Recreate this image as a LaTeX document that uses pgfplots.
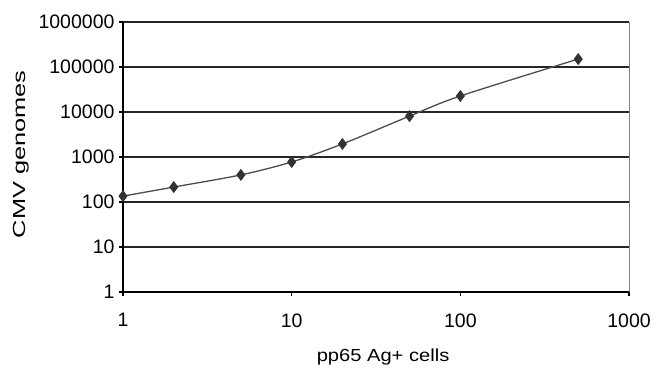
\documentclass[border=0pt]{standalone}
\usepackage{pgfplots}
\pgfplotsset{compat=1.18}
\usepackage{fontspec}
\setmainfont{Liberation Sans}
\begin{document}
\begin{tikzpicture}[x=1pt,y=1pt]
\useasboundingbox (0,0) rectangle (655,375);
\begin{axis}[
  at={(123pt,83pt)}, anchor=south west,
  scale only axis, width=506pt, height=270pt,
  xmode=log, ymode=log,
  xmin=1, xmax=1000, ymin=1, ymax=1000000,
  log basis x=10, log basis y=10,
  xtick={1,10,100,1000}, xticklabels={1,10,100,1000},
  ytick={1,10,100,1000,10000,100000,1000000},
  yticklabels={1,10,100,1000,10000,100000,1000000},
  minor xtick={}, minor ytick={},
  tick align=outside, major tick length=4pt,
  tick style={black, line width=1.2pt},
  axis x line*=bottom, axis y line*=left,
  axis line style={black, line width=1.5pt, -},
  ymajorgrids, major grid style={black!85, line width=1.8pt},
  tick label style={font=\fontsize{19.5}{19.5}\selectfont},
  xticklabel style={yshift=-14pt},
  yticklabel style={xshift=-1pt},
  xlabel={\scalebox{1.15}[1]{pp65 Ag+ cells}}, ylabel={\scalebox{1.45}[1]{CMV genomes}},
  label style={font=\fontsize{17.5}{17.5}\selectfont},
  x label style={at={(axis description cs:0.514,-0.24)}, anchor=center},
  y label style={at={(axis description cs:-0.202,0.51)}, anchor=center},
  clip=false,
]
\draw[gray, line width=1pt] (axis cs:1000,1) -- (axis cs:1000,1000000);
\addplot[smooth, color=black!70, line width=1.3pt, mark=diamond*, mark size=5pt,
  mark options={fill=black!80, draw=black!80}]
  coordinates {(1,135) (2,215) (5,400) (10,775) (20,1950) (50,8100) (100,22700) (500,150000)};
\end{axis}
\end{tikzpicture}
\end{document}
